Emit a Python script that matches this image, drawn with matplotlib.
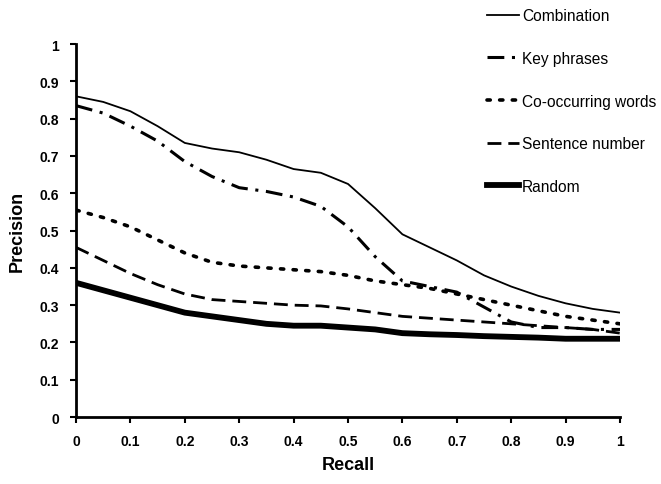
import matplotlib
matplotlib.use("Agg")
import matplotlib.pyplot as plt
import numpy as np

plt.rcParams['font.family'] = ['Liberation Sans', 'DejaVu Sans']

recall = [0.0, 0.05, 0.1, 0.15, 0.2, 0.25, 0.3, 0.35, 0.4, 0.45, 0.5,
          0.55, 0.6, 0.65, 0.7, 0.75, 0.8, 0.85, 0.9, 0.95, 1.0]

combination = [0.86, 0.845, 0.82, 0.78, 0.735, 0.72, 0.71, 0.69, 0.665, 0.655, 0.625,
               0.56, 0.49, 0.455, 0.42, 0.38, 0.35, 0.325, 0.305, 0.29, 0.28]
key_phrases = [0.835, 0.815, 0.78, 0.74, 0.685, 0.645, 0.615, 0.605, 0.59, 0.565, 0.51,
               0.43, 0.365, 0.35, 0.335, 0.295, 0.255, 0.24, 0.24, 0.235, 0.235]
co_occurring = [0.555, 0.535, 0.51, 0.475, 0.44, 0.415, 0.405, 0.4, 0.395, 0.39, 0.38,
                0.365, 0.355, 0.345, 0.33, 0.315, 0.3, 0.285, 0.27, 0.26, 0.25]
sentence_number = [0.455, 0.42, 0.385, 0.355, 0.33, 0.315, 0.31, 0.305, 0.3, 0.298, 0.29,
                   0.28, 0.27, 0.265, 0.26, 0.255, 0.25, 0.245, 0.24, 0.235, 0.225]
random_sel = [0.36, 0.34, 0.32, 0.3, 0.28, 0.27, 0.26, 0.25, 0.245, 0.245, 0.24,
              0.235, 0.225, 0.222, 0.22, 0.217, 0.215, 0.213, 0.21, 0.21, 0.21]

labels = ["Combination", "Key phrases", "Co-occurring words", "Sentence number", "Random"]
xticks = [0, 0.1, 0.2, 0.3, 0.4, 0.5, 0.6, 0.7, 0.8, 0.9, 1]
xticklabels = ["0", "0.1", "0.2", "0.3", "0.4", "0.5", "0.6", "0.7", "0.8", "0.9", "1"]
yticks = [0, 0.1, 0.2, 0.3, 0.4, 0.5, 0.6, 0.7, 0.8, 0.9, 1]
yticklabels = ["0", "0.1", "0.2", "0.3", "0.4", "0.5", "0.6", "0.7", "0.8", "0.9", "1"]

fig = plt.figure(figsize=(6.61, 4.85), dpi=100)
ax = fig.add_axes([0.115, 0.138, 0.823, 0.769])

h1, = ax.plot(recall, combination, color='black', lw=1.3, linestyle='-')
h2, = ax.plot(recall, key_phrases, color='black', lw=2.2, linestyle=(0, (5.5, 2.5, 1.0, 2.5)))
h3, = ax.plot(recall, co_occurring, color='black', lw=2.6, linestyle=(0, (0.9, 2.6)),
              dash_capstyle='round')
h4, = ax.plot(recall, sentence_number, color='black', lw=2.0, linestyle=(0, (5, 2.5)))
h5, = ax.plot(recall, random_sel, color='black', lw=4.2, linestyle='-')

ax.set_xlim(0, 1)
ax.set_ylim(0, 1)
ax.set_xticks(xticks)
ax.set_xticklabels(xticklabels, fontweight='bold', fontsize=10)
ax.set_yticks(yticks)
ax.set_yticklabels(yticklabels, fontweight='bold', fontsize=10)
ax.tick_params(direction='out', length=4, width=1.5, pad=8)
ax.spines['top'].set_visible(False)
ax.spines['right'].set_visible(False)
ax.spines['left'].set_linewidth(2)
ax.spines['bottom'].set_linewidth(2)
ax.set_xlabel("Recall", fontweight='bold', fontsize=13, labelpad=6)
ax.set_ylabel("Precision", fontweight='bold', fontsize=13, labelpad=10)

leg = fig.legend([h1, h2, h3, h4, h5], labels, loc='upper left',
                 bbox_to_anchor=(0.727, 0.994), frameon=False, fontsize=11.2,
                 handlelength=2.1, handletextpad=0.15, labelspacing=1.78,
                 borderaxespad=0)

fig.savefig("out.png", dpi=100)
